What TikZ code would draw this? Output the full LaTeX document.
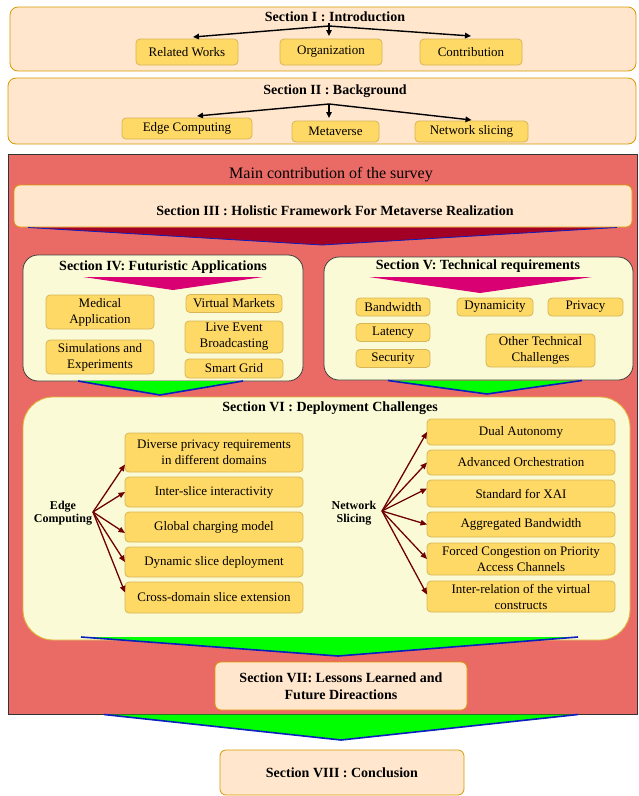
\documentclass[tikz,border=0pt]{standalone}
\usepackage{fontspec}
\setmainfont{Liberation Serif}
\usetikzlibrary{calc,arrows.meta}

\definecolor{peachfill}{HTML}{FFE6CC}
\definecolor{peachline}{HTML}{D79B00}
\definecolor{itemfill}{HTML}{FFD966}
\definecolor{itemline}{HTML}{D6B656}
\definecolor{panelfill}{HTML}{FAFBD6}
\definecolor{panelline}{HTML}{E2B23C}
\definecolor{mainred}{HTML}{EA6B66}
\definecolor{magentatri}{HTML}{D80073}
\definecolor{crimson}{HTML}{A20025}
\definecolor{brightgreen}{HTML}{00FF00}
\definecolor{edgeblue}{HTML}{0A1FC0}
\definecolor{darkarrow}{HTML}{6F0000}

\begin{document}
\begin{tikzpicture}[x=1pt,y=-1pt,
  every node/.style={inner sep=0pt, outer sep=0pt},
  regular/.style={font=\fontsize{13}{16}\selectfont},
  heading/.style={font=\fontsize{14}{17}\selectfont\bfseries, align=center},
  sidelabel/.style={font=\fontsize{12}{13.5}\selectfont\bfseries, align=center},
  sectionbox/.style={draw=peachline, fill=peachfill, line width=0.8pt, rounded corners=#1},
  sectionbox/.default=6pt,
  itembox/.style={draw=itemline, fill=itemfill, line width=0.8pt, rounded corners=4pt, regular, align=center},
  panel/.style={draw=black!75, fill=panelfill, line width=0.8pt, rounded corners=15pt},
  blackarrow/.style={-{Triangle[length=6pt,width=5.5pt]}, line width=1.4pt},
  branch/.style={draw=darkarrow, line width=1.3pt, -{Triangle[length=6.5pt,width=5.5pt]}},
  blueedge/.style={draw=edgeblue, line width=1.6pt, line join=round},
]
\useasboundingbox (0,0) rectangle (638,796);

% ---------- Section I ----------
\node[sectionbox=8pt, minimum width=626pt, minimum height=64pt] (s1) at (323,39) {};
\node[heading] (s1t) at (335,17) {Section I : Introduction};
\node[itembox, minimum width=102pt, minimum height=26pt] (rw)  at (187,52) {Related Works};
\node[itembox, minimum width=102pt, minimum height=26pt] (org) at (331,52) {Organization};
\node[itembox, minimum width=102pt, minimum height=26pt] (con) at (471,52) {Contribution};
\coordinate (s1o) at (329,26);
\draw[blackarrow] (s1o) -- ($(rw.north)+(6,-2)$);
\draw[blackarrow] (329,23) -- ($(org.north)+(-2,-3)$);
\draw[blackarrow] (s1o) -- ($(con.north)+(0,-3)$);

% ---------- Section II ----------
\node[sectionbox=8pt, minimum width=628pt, minimum height=66pt] (s2) at (322,111) {};
\node[heading] (s2t) at (335,91) {Section II : Background};
\node[itembox, minimum width=130pt, minimum height=21pt] (ec)  at (187,128.5) {Edge Computing};
\node[itembox, minimum width=87pt,  minimum height=21pt] (mv)  at (335.5,131.5) {Metaverse};
\node[itembox, minimum width=113pt, minimum height=21pt] (ns)  at (471.5,131.5) {Network slicing};
\coordinate (s2o) at (329,104);
\draw[blackarrow] (s2o) -- ($(ec.north)+(10,-2)$);
\draw[blackarrow] (s2o) -- ($(mv.north)+(-6.5,-3)$);
\draw[blackarrow] (s2o) -- ($(ns.north)+(0,-1)$);

% ---------- Main contribution frame ----------
\node[draw=black!80, fill=mainred, line width=0.8pt, minimum width=629pt, minimum height=560pt] (mainframe) at (322.5,434) {};
\node[font=\fontsize{16}{18}\selectfont] (maint) at (331,175) {Main contribution of the survey};

% ---------- Section III ----------
\node[sectionbox=6pt, minimum width=618pt, minimum height=42pt] (s3) at (323,206) {};
\node[heading] (s3t) at (335,211) {Section III : Holistic Framework For Metaverse Realization};
\fill[crimson] (28,227.5) -- (617,227.5) -- (322,245) -- cycle;
\draw[draw=edgeblue, line width=0.8pt] (28,227.5) -- (322,245) -- (617,227.5);

% ---------- Section IV ----------
\node[panel, minimum width=280pt, minimum height=126pt] (s4) at (163,318) {};
\node[heading] (s4t) at (163,267) {Section IV: Futuristic Applications};
\fill[magentatri] (83,277) -- (263,277) -- (173,290) -- cycle;
\node[itembox, minimum width=108pt, minimum height=34pt] (med)  at (100,312) {Medical\\Application};
\node[itembox, minimum width=108pt, minimum height=34pt] (sim)  at (100,357) {Simulations and\\Experiments};
\node[itembox, minimum width=96pt,  minimum height=18pt] (vm)   at (234,303.5) {Virtual Markets};
\node[itembox, minimum width=98pt,  minimum height=32pt] (live) at (234,337) {Live Event\\Broadcasting};
\node[itembox, minimum width=98pt,  minimum height=19pt] (sg)   at (234,368.5) {Smart Grid};

% ---------- Section V ----------
\node[panel, minimum width=309pt, minimum height=123pt] (s5) at (478.5,318.5) {};
\node[heading] (s5t) at (478,266) {Section V: Technical requirements};
\fill[magentatri] (369,277) -- (592,277) -- (480,293) -- cycle;
\node[itembox, minimum width=74pt,  minimum height=18pt] (bw)  at (393,307) {Bandwidth};
\node[itembox, minimum width=76pt,  minimum height=18pt] (dyn) at (495,307) {Dynamicity};
\node[itembox, minimum width=75pt,  minimum height=18pt] (pri) at (585.5,307) {Privacy};
\node[itembox, minimum width=74pt,  minimum height=18pt] (lat) at (393,332.5) {Latency};
\node[itembox, minimum width=74pt,  minimum height=18pt] (sec) at (393,358.5) {Security};
\node[itembox, minimum width=109pt, minimum height=33pt] (otc) at (540.5,350.5) {Other Technical\\Challenges};

% green chevrons below IV and V
\fill[brightgreen] (78,381) -- (243,381) -- (160,395) -- cycle;
\draw[blueedge] (78,381) -- (160,395) -- (243,381);
\fill[brightgreen] (388,380.5) -- (582,380.5) -- (487,394) -- cycle;
\draw[blueedge] (388,380.5) -- (487,394) -- (582,380.5);

% ---------- Section VI ----------
\node[draw=panelline, fill=panelfill, line width=0.9pt, rounded corners=30pt, minimum width=607pt, minimum height=243pt] (s6) at (326.5,518.5) {};
\node[heading] (s6t) at (330,408) {Section VI : Deployment Challenges};

\node[sidelabel] (edgelab) at (63,513) {Edge\\Computing};
\coordinate (ecsrc) at (93,512);
\node[itembox, minimum width=178pt, minimum height=39pt] (l1) at (214,452.5) {Diverse privacy requirements\\in different domains};
\node[itembox, minimum width=178pt, minimum height=30pt] (l2) at (214,492) {Inter-slice interactivity};
\node[itembox, minimum width=178pt, minimum height=30pt] (l3) at (214,527) {Global charging model};
\node[itembox, minimum width=178pt, minimum height=30pt] (l4) at (214,562) {Dynamic slice deployment};
\node[itembox, minimum width=178pt, minimum height=31pt] (l5) at (214,597.5) {Cross-domain slice extension};
\draw[branch] (ecsrc) -- ($(l1.west)+(0,12)$);
\draw[branch] (ecsrc) -- (l2.west);
\draw[branch] (ecsrc) -- ($(l3.west)+(0,6)$);
\draw[branch] (ecsrc) -- (l4.west);
\draw[branch] (ecsrc) -- ($(l5.west)+(0,-5)$);

\node[sidelabel] (nslab) at (354,513) {Network\\Slicing};
\coordinate (nssrc) at (382,511);
\node[itembox, minimum width=188pt, minimum height=26pt] (r1) at (521,432) {Dual Autonomy};
\node[itembox, minimum width=188pt, minimum height=25pt] (r2) at (521,462.5) {Advanced Orchestration};
\node[itembox, minimum width=188pt, minimum height=27pt] (r3) at (521,493.5) {Standard for XAI};
\node[itembox, minimum width=188pt, minimum height=25pt] (r4) at (521,524.5) {Aggregated Bandwidth};
\node[itembox, minimum width=188pt, minimum height=32pt] (r5) at (521,559) {Forced Congestion on Priority\\Access Channels};
\node[itembox, minimum width=188pt, minimum height=31pt] (r6) at (521,596.5) {Inter-relation of the virtual\\constructs};
\draw[branch] (nssrc) -- (r1.west);
\draw[branch] (nssrc) -- (r2.west);
\draw[branch] (nssrc) -- ($(r3.west)+(0,-5)$);
\draw[branch] (nssrc) -- (r4.west);
\draw[branch] (nssrc) -- (r5.west);
\draw[branch] (nssrc) -- ($(r6.west)+(0,-2)$);

% chevron below VI
\fill[brightgreen] (81,637) -- (578,637) -- (338,656) -- cycle;
\draw[blueedge] (81,637) -- (338,656) -- (578,637);

% ---------- Section VII ----------
\node[sectionbox=6pt, heading, minimum width=252pt, minimum height=48pt] (s7) at (341,686) {Section VII: Lessons Learned and\\Future Direactions};

% chevron below the frame
\fill[brightgreen] (104,714.5) -- (578,714.5) -- (341,740) -- cycle;
\draw[blueedge] (104,714.5) -- (341,740) -- (578,714.5);

% ---------- Section VIII ----------
\node[sectionbox=6pt, heading, minimum width=244pt, minimum height=45pt] (s8) at (342,772.5) {Section VIII : Conclusion};
\end{tikzpicture}
\end{document}
